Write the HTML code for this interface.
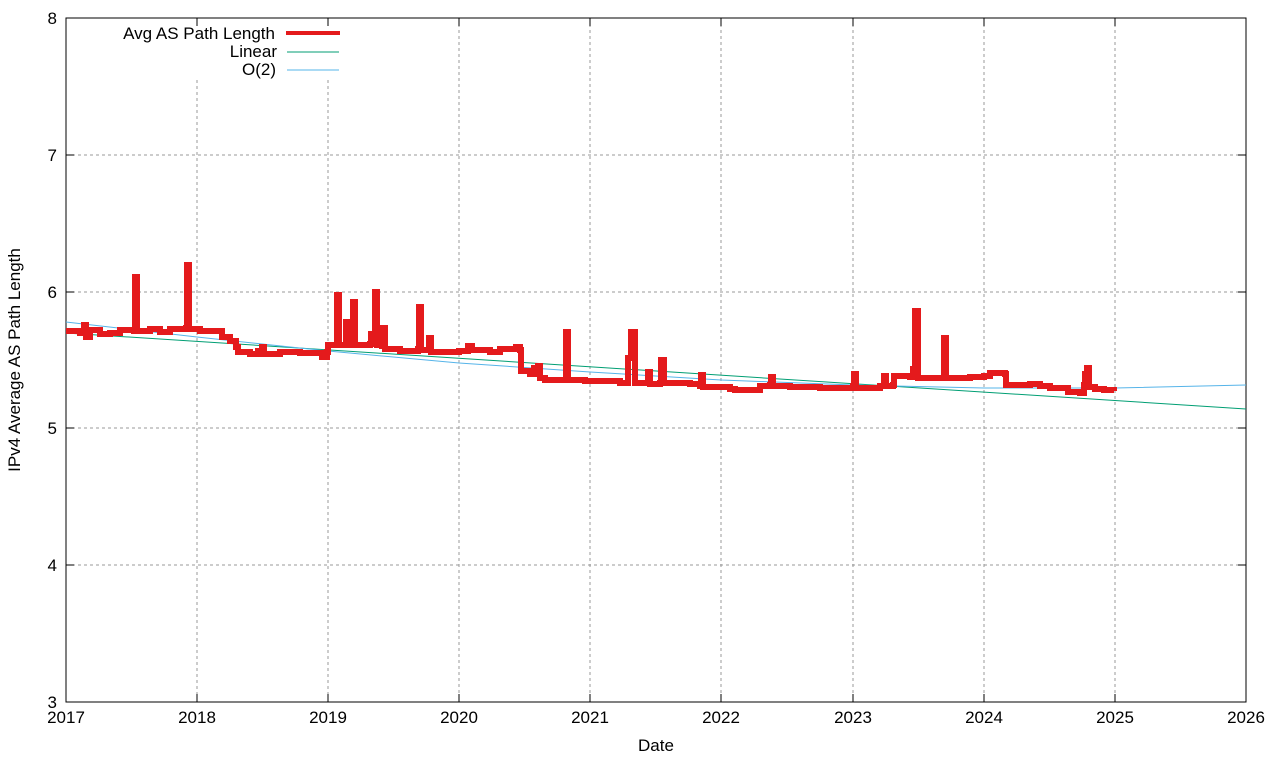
<!DOCTYPE html>
<html><head><meta charset="utf-8"><style>
html,body{margin:0;padding:0;background:#fff;}
svg{display:block;font-family:"Liberation Sans",sans-serif;}
</style></head><body>
<svg width="1280" height="760" xmlns="http://www.w3.org/2000/svg">
<rect width="1280" height="760" fill="#fff"/>
<g stroke="#999" stroke-width="1" stroke-dasharray="3,3" fill="none">
<line x1="66" y1="155" x2="1246" y2="155"/>
<line x1="66" y1="292" x2="1246" y2="292"/>
<line x1="66" y1="428" x2="1246" y2="428"/>
<line x1="66" y1="565" x2="1246" y2="565"/>
<line x1="197" y1="80" x2="197" y2="702"/>
<line x1="328" y1="80" x2="328" y2="702"/>
<line x1="459" y1="18" x2="459" y2="702"/>
<line x1="590" y1="18" x2="590" y2="702"/>
<line x1="721" y1="18" x2="721" y2="702"/>
<line x1="853" y1="18" x2="853" y2="702"/>
<line x1="984" y1="18" x2="984" y2="702"/>
<line x1="1115" y1="18" x2="1115" y2="702"/>
</g>
<rect x="66" y="18" width="1180" height="684" fill="none" stroke="#000" stroke-width="1"/>
<g stroke="#000" stroke-width="1">
<line x1="66" y1="155" x2="74" y2="155"/><line x1="1246" y1="155" x2="1238" y2="155"/>
<line x1="66" y1="292" x2="74" y2="292"/><line x1="1246" y1="292" x2="1238" y2="292"/>
<line x1="66" y1="428" x2="74" y2="428"/><line x1="1246" y1="428" x2="1238" y2="428"/>
<line x1="66" y1="565" x2="74" y2="565"/><line x1="1246" y1="565" x2="1238" y2="565"/>
<line x1="197" y1="702" x2="197" y2="694"/><line x1="197" y1="18" x2="197" y2="26"/>
<line x1="328" y1="702" x2="328" y2="694"/><line x1="328" y1="18" x2="328" y2="26"/>
<line x1="459" y1="702" x2="459" y2="694"/><line x1="459" y1="18" x2="459" y2="26"/>
<line x1="590" y1="702" x2="590" y2="694"/><line x1="590" y1="18" x2="590" y2="26"/>
<line x1="721" y1="702" x2="721" y2="694"/><line x1="721" y1="18" x2="721" y2="26"/>
<line x1="853" y1="702" x2="853" y2="694"/><line x1="853" y1="18" x2="853" y2="26"/>
<line x1="984" y1="702" x2="984" y2="694"/><line x1="984" y1="18" x2="984" y2="26"/>
<line x1="1115" y1="702" x2="1115" y2="694"/><line x1="1115" y1="18" x2="1115" y2="26"/>
</g>
<g font-size="17" fill="#000" text-anchor="end">
<text x="57" y="24">8</text><text x="57" y="161">7</text><text x="57" y="298">6</text>
<text x="57" y="434">5</text><text x="57" y="571">4</text><text x="57" y="708">3</text>
</g>
<g font-size="17" fill="#000" text-anchor="middle">
<text x="66" y="723">2017</text><text x="197" y="723">2018</text><text x="328" y="723">2019</text>
<text x="459" y="723">2020</text><text x="590" y="723">2021</text><text x="721" y="723">2022</text>
<text x="853" y="723">2023</text><text x="984" y="723">2024</text><text x="1115" y="723">2025</text>
<text x="1246" y="723">2026</text>
<text x="656" y="751">Date</text>
<text transform="translate(20,360) rotate(-90)">IPv4 Average AS Path Length</text>
</g>
<polyline fill="none" stroke="#009e73" stroke-width="1" points="66,333 1246,409"/>
<polyline fill="none" stroke="#56b4e9" stroke-width="1" points="66,322 197,337 328,351 459,363 590,372 721,380 853,385 984,388 1115,388 1246,385"/>
<path fill="none" stroke="#e41a1c" stroke-width="6" stroke-linejoin="miter" d="M66,331 H80 V333 H84 V325 H86 V337 H90 V330 H100 V334 H110 V333 H120 V330 H134 V331 H135 V277 H137 V331 H150 V329 H160 V332 H170 V329 H186 V328 H187 V265 H189 V329 H200 V331 H210 V331 H222 V337 H230 V341 H236 V347 H238 V352 H250 V354 H258 V351 H262 V347 H264 V354 H280 V352 H300 V353 H318 V353 H322 V357 H327 V352 H328 V345 H336 V345 H337 V295 H339 V345 H345 V345 H346 V322 H348 V345 H352 V345 H353 V302 H355 V345 H370 V344 H371 V334 H374 V334 H375 V292 H377 V345 H382 V346 H383 V328 H385 V349 H400 V351 H418 V349 H419 V307 H421 V350 H428 V350 H429 V338 H431 V352 H440 V352 H459 V351 H468 V346 H472 V350 H480 V350 H490 V352 H500 V349 H512 V349 H516 V347 H520 V350 H521 V371 H530 V374 H534 V368 H538 V366 H540 V378 H545 V380 H565 V380 H566 V332 H568 V380 H585 V381 H600 V381 H620 V383 H627 V383 H628 V358 H631 V332 H635 V383 H645 V383 H648 V372 H650 V384 H660 V383 H661 V360 H664 V383 H690 V384 H700 V386 H701 V375 H703 V387 H720 V387 H730 V389 H735 V390 H757 V390 H760 V386 H770 V385 H771 V377 H773 V386 H790 V387 H820 V388 H850 V388 H853 V386 H854 V374 H856 V388 H880 V386 H884 V376 H886 V386 H893 V385 H894 V376 H910 V377 H913 V369 H915 V311 H918 V378 H943 V378 H944 V338 H946 V378 H960 V378 H970 V377 H984 V376 H990 V373 H1005 V374 H1006 V385 H1020 V385 H1030 V384 H1040 V386 H1050 V388 H1060 V388 H1068 V392 H1080 V393 H1084 V385 H1085 V374 H1087 V368 H1089 V387 H1095 V389 H1104 V390 H1114 V391"/>
<g font-size="17" fill="#000" text-anchor="end">
<text x="275" y="39">Avg AS Path Length</text>
<text x="277" y="57">Linear</text>
<text x="276" y="75">O(2)</text>
</g>
<line x1="286" y1="33" x2="340" y2="33" stroke="#e41a1c" stroke-width="4"/>
<line x1="287" y1="52" x2="339" y2="52" stroke="#009e73" stroke-width="1"/>
<line x1="287" y1="70" x2="339" y2="70" stroke="#56b4e9" stroke-width="1"/>
</svg>
</body></html>
